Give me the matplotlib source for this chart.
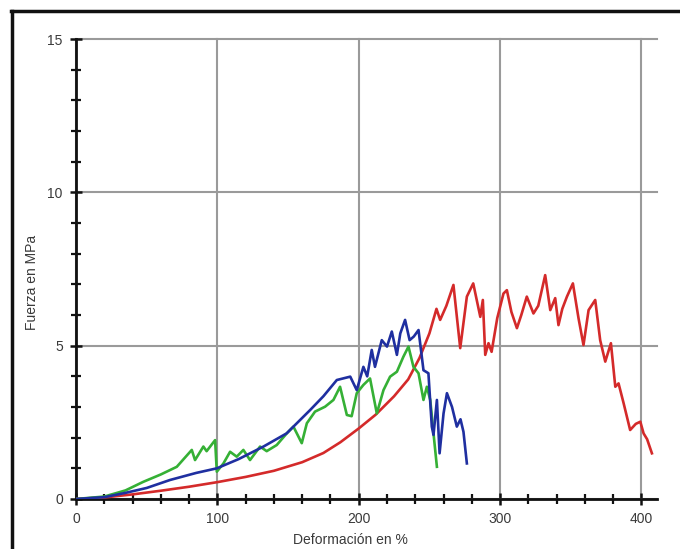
import numpy as np
import matplotlib
matplotlib.use('Agg')
import matplotlib.pyplot as plt
from matplotlib.ticker import MultipleLocator
from matplotlib.lines import Line2D

# Colours
RED   = '#d42a2a'
BLUE  = '#1f2fa0'
GREEN = '#35b035'
GRID  = '#9a9a9a'
TEXT  = '#3a3a3a'

plt.rcParams['font.family'] = ['Liberation Sans', 'DejaVu Sans']

# Red specimen: smooth rise, then jagged plateau and rupture
red_x = [0, 20, 40, 60, 80, 100, 120, 140, 160, 175, 187, 200, 212, 225, 235,
         243, 250, 255, 257.6, 262, 267, 271.8, 276.5, 281, 286, 287.8, 289.5,
         291.8, 294, 298, 302.4, 304.8, 308, 311.9, 315, 318.9, 323.6, 327,
         331.9, 335.5, 339, 341.3, 344, 347.3, 351.5, 355.5, 359, 362.6, 367.3,
         370.8, 374.4, 378.4, 381.5, 383.8, 387.4, 392, 396, 399.2, 401.5, 404,
         407.4]
red_y = [0, 0.05, 0.15, 0.27, 0.4, 0.55, 0.72, 0.92, 1.2, 1.5, 1.85, 2.3, 2.75,
         3.35, 3.9, 4.6, 5.4, 6.2, 5.84, 6.3, 6.98, 4.92, 6.6, 7.03, 5.94, 6.49,
         4.7, 5.08, 4.8, 5.9, 6.7, 6.81, 6.1, 5.57, 6.0, 6.6, 6.05, 6.3, 7.3,
         6.16, 6.55, 5.67, 6.2, 6.6, 7.03, 5.89, 5.02, 6.16, 6.49, 5.18, 4.48,
         5.08, 3.66, 3.77, 3.12, 2.25, 2.45, 2.52, 2.14, 1.95, 1.49]

# Blue specimen
blue_x = [0, 20, 35, 50, 66.5, 85, 99.6, 115, 132.6, 149, 165.6, 175, 184.5,
          194, 198.6, 203.3, 206, 209.2, 211.5, 216.3, 220, 223.4, 227, 229.4,
          232.8, 236, 239, 242.3, 245.8, 249.3, 251.7, 252.9, 255.3, 257.2, 260,
          262.4, 266, 269.4, 272, 274.1, 276.5]
blue_y = [0, 0.06, 0.2, 0.36, 0.62, 0.85, 1.0, 1.3, 1.71, 2.14, 2.9, 3.35, 3.88,
          3.99, 3.55, 4.31, 4.0, 4.86, 4.31, 5.18, 4.97, 5.46, 4.7, 5.4, 5.84,
          5.18, 5.3, 5.51, 4.2, 4.1, 2.36, 2.09, 3.23, 1.49, 2.79, 3.45, 3.0,
          2.36, 2.6, 2.19, 1.16]

# Green specimen
green_x = [0, 20, 35, 47.6, 60, 71.3, 81.9, 84.2, 90.1, 92.4, 98.4, 99.6, 104.3,
           109, 113.7, 118.4, 123.1, 130.2, 134.9, 142, 149.1, 153.8, 159.7,
           163.3, 169.1, 176.2, 182.1, 186.8, 191.6, 195, 198.6, 203.3, 208,
           212.8, 217.5, 222.2, 227, 231.6, 235.2, 238.7, 242.3, 245.8, 248.2,
           250.6, 252.9, 255.3]
green_y = [0, 0.08, 0.28, 0.56, 0.8, 1.05, 1.6, 1.27, 1.71, 1.56, 1.92, 0.89,
           1.16, 1.54, 1.38, 1.6, 1.27, 1.71, 1.56, 1.76, 2.14, 2.36, 1.82, 2.47,
           2.85, 3.01, 3.23, 3.66, 2.74, 2.7, 3.45, 3.72, 3.93, 2.79, 3.55, 3.99,
           4.15, 4.64, 4.97, 4.31, 4.1, 3.23, 3.66, 3.23, 2.14, 1.05]

fig = plt.figure(figsize=(6.8, 5.49), dpi=100)
ax = fig.add_axes([76 / 680, 50 / 549, 581 / 680, 460 / 549])

ax.plot(red_x, red_y, color=RED, lw=1.9, zorder=3)
ax.plot(green_x, green_y, color=GREEN, lw=1.9, zorder=4)
ax.plot(blue_x, blue_y, color=BLUE, lw=1.9, zorder=5)

ax.set_xlim(0, 411)
ax.set_ylim(0, 15)

ax.xaxis.set_major_locator(MultipleLocator(100))
ax.xaxis.set_minor_locator(MultipleLocator(20))
ax.yaxis.set_major_locator(MultipleLocator(5))
ax.yaxis.set_minor_locator(MultipleLocator(1))

ax.grid(True, which='major', color=GRID, lw=1.5)
for gl in ax.get_ygridlines() + ax.get_xgridlines():
    gl.set_clip_on(False)
ax.set_axisbelow(True)

for side in ['top', 'right']:
    ax.spines[side].set_visible(False)
for side in ['left', 'bottom']:
    ax.spines[side].set_linewidth(2.0)
    ax.spines[side].set_color('#111111')

ax.tick_params(which='major', direction='inout', length=9, width=1.8,
               color='#111111', labelsize=10, labelcolor=TEXT, pad=5)
ax.tick_params(which='minor', direction='inout', length=7, width=1.6,
               color='#111111')

ax.set_xlabel('Deformación en %', fontsize=10, color=TEXT)
ax.set_ylabel('Fuerza en MPa', fontsize=10, color=TEXT)
ax.xaxis.set_label_coords(0.4716, -0.073)
ax.yaxis.set_label_coords(-0.063, 0.47)

# outer frame (partly cut off at right and bottom)
fig.add_artist(Line2D([11 / 680, 1.0], [1 - 11 / 549, 1 - 11 / 549],
                      transform=fig.transFigure, color='#111111', lw=2.5))
fig.add_artist(Line2D([12 / 680, 12 / 680], [0.0, 1 - 11 / 549],
                      transform=fig.transFigure, color='#111111', lw=2.5))

fig.savefig('out.png', dpi=100)
plt.close()
